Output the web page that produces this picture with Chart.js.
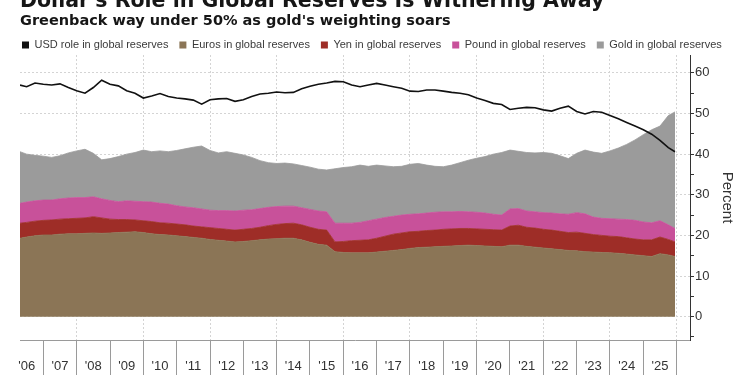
<!DOCTYPE html>
<html><head><meta charset="utf-8">
<script src="https://cdn.jsdelivr.net/npm/chart.js@4.4.1/dist/chart.umd.min.js"></script>
<style>
html,body{margin:0;padding:0;background:#fff;overflow:hidden}
#wrap{position:relative;width:750px;height:375px;overflow:hidden;background:#fff}
canvas{position:absolute;left:0;top:0}
.t{position:absolute;left:20px;white-space:nowrap;font-family:'DejaVu Sans',sans-serif;font-weight:bold;color:#161616;line-height:1}
#title{top:-10.3px;font-size:20.5px}
#sub{top:12.7px;font-size:14.5px}
</style></head><body>
<div id="wrap">
<canvas id="c" width="750" height="375"></canvas>
<div class="t" id="title">Dollar's Role in Global Reserves Is Withering Away</div>
<div class="t" id="sub">Greenback way under 50% as gold's weighting soars</div>
</div>
<script>
// ---- data (decimal years) ----
const dates = [2006.30,2006.50,2006.75,2007.00,2007.25,2007.50,2007.75,2008.00,2008.25,2008.50,
2008.75,2009.00,2009.25,2009.50,2009.75,2010.00,2010.25,2010.50,2010.75,2011.00,
2011.25,2011.50,2011.75,2012.00,2012.25,2012.50,2012.75,2013.00,2013.25,2013.50,
2013.75,2014.00,2014.25,2014.50,2014.75,2015.00,2015.25,2015.50,2015.75,2016.00,
2016.25,2016.50,2016.75,2017.00,2017.25,2017.50,2017.75,2018.00,2018.25,2018.50,
2018.75,2019.00,2019.25,2019.50,2019.75,2020.00,2020.25,2020.50,2020.75,2021.00,
2021.25,2021.50,2021.75,2022.00,2022.25,2022.50,2022.75,2023.00,2023.25,2023.50,
2023.75,2024.00,2024.25,2024.50,2024.75,2025.00,2025.25,2025.50,2025.75,2025.95];

const usd = [57.0,56.6,57.5,57.2,57.0,57.3,56.4,55.6,55.0,56.4,
58.2,57.2,56.8,55.6,55.0,53.8,54.3,54.9,54.2,53.8,
53.6,53.3,52.3,53.4,53.6,53.7,53.0,53.4,54.2,54.8,
55.0,55.3,55.1,55.2,56.1,56.7,57.2,57.5,57.9,57.8,
57.0,56.6,57.0,57.4,57.0,56.6,56.2,55.5,55.4,55.8,
55.8,55.5,55.2,55.0,54.6,53.8,53.2,52.5,52.2,51.0,
51.3,51.5,51.4,50.9,50.6,51.3,51.8,50.5,49.9,50.5,
50.3,49.5,48.7,47.8,46.9,46.0,44.9,43.4,41.6,40.6];

const euro = [19.3,19.6,19.9,20.1,20.1,20.3,20.4,20.4,20.5,20.6,
20.5,20.6,20.7,20.8,20.9,20.7,20.4,20.2,20.1,19.9,
19.7,19.5,19.3,19.0,18.8,18.6,18.4,18.5,18.7,18.9,
19.1,19.2,19.3,19.3,18.9,18.3,17.8,17.6,16.0,15.8,
15.7,15.7,15.7,15.9,16.1,16.3,16.5,16.8,17.0,17.1,
17.2,17.3,17.4,17.5,17.6,17.5,17.4,17.3,17.2,17.6,
17.6,17.3,17.1,16.9,16.7,16.5,16.3,16.2,16.0,15.9,
15.8,15.7,15.6,15.4,15.2,15.0,14.8,15.5,15.2,14.8];

const yen = [3.7,3.6,3.6,3.6,3.7,3.7,3.7,3.8,3.8,4.0,
3.8,3.4,3.2,3.1,2.9,2.9,3.0,2.9,2.9,2.9,
2.9,2.8,2.8,2.9,2.9,2.9,2.9,3.0,3.0,3.1,
3.3,3.5,3.6,3.7,3.7,3.7,3.7,3.7,2.4,2.7,
3.0,3.1,3.2,3.4,3.7,4.0,4.1,4.1,4.0,4.1,
4.1,4.2,4.2,4.2,4.1,4.1,4.1,4.1,4.1,4.7,
4.9,4.7,4.7,4.6,4.6,4.5,4.4,4.6,4.5,4.3,
4.2,4.1,4.1,4.0,3.9,3.9,4.1,4.1,3.8,3.6];

const pound = [4.9,5.0,5.0,5.0,4.9,5.0,5.1,5.1,5.0,4.9,
4.7,4.6,4.4,4.6,4.6,4.7,4.8,4.8,4.7,4.5,
4.4,4.5,4.4,4.3,4.4,4.6,4.7,4.7,4.6,4.6,
4.5,4.4,4.3,4.2,4.2,4.4,4.5,4.5,4.6,4.5,
4.3,4.4,4.7,4.7,4.6,4.4,4.4,4.3,4.3,4.3,
4.4,4.3,4.2,4.2,4.1,4.1,4.0,3.8,3.7,4.2,
4.1,4.0,4.0,4.1,4.2,4.3,4.5,4.8,4.8,4.3,
4.2,4.3,4.3,4.5,4.6,4.4,4.2,4.0,3.6,3.3];

const gold = [12.7,11.8,11.2,10.8,10.5,10.6,11.1,11.5,11.9,10.7,
9.6,10.3,11.1,11.5,12.0,12.7,12.4,12.9,12.9,13.6,
14.3,14.9,15.5,14.7,14.2,14.5,14.2,13.6,12.9,11.8,
11.0,10.6,10.6,10.4,10.4,10.4,10.3,10.3,13.4,13.7,
13.9,14.1,13.4,13.3,12.7,12.2,12.0,12.3,12.4,11.8,
11.3,11.1,11.5,12.0,12.7,13.3,13.9,14.8,15.4,14.5,
14.1,14.4,14.5,14.8,14.7,14.3,13.7,14.6,15.7,16.0,
16.0,16.7,17.5,18.5,19.8,21.5,22.9,23.3,26.9,28.7];

// ---- tick labels ----
const yearStarts = [2007,2008,2009,2010,2011,2012,2013,2014,2015,2016,2017,2018,2019,2020,2021,2022,2023,2024,2025,2026];
const xLabels = ["'06","'07","'08","'09","'10","'11","'12","'13","'14","'15","'16","'17","'18","'19","'20","'21","'22","'23","'24","'25"];
const yTicks = [-5,0,5,10,15,20,25,30,35,40,45,50,55,60];

const seriesLabels = ['USD role in global reserves','Euros in global reserves','Yen in global reserves','Pound in global reserves','Gold in global reserves'];
const colors = ['#111111','#8b7556','#9e2d27','#c8519a','#9b9b9b'];

const SANS = "'Liberation Sans', Arial, sans-serif";
const pts = arr => arr.map((v, i) => ({x: dates[i], y: v}));
const clear = 'rgba(0,0,0,0)';

// label positions are centred within each year
const xTickVals = [];
yearStarts.forEach((y, i) => { xTickVals.push(y - 0.5); xTickVals.push(y); });
const labelAt = {};
yearStarts.forEach((y, i) => { labelAt[(y - 0.5).toFixed(1)] = xLabels[i]; });

const area = (i, fill) => ({
  label: seriesLabels[i], data: pts([null, euro, yen, pound, gold][i]), stack: 'res', yAxisID: 'y',
  backgroundColor: colors[i], borderColor: colors[i], borderWidth: 0.8, fill: fill,
  pointRadius: 0, tension: 0
});

new Chart(document.getElementById('c'), {
  type: 'line',
  data: { datasets: [
    { label: seriesLabels[0], data: pts(usd), stack: 'usd', yAxisID: 'y', borderColor: colors[0], backgroundColor: colors[0],
      borderWidth: 1.6, fill: false, pointRadius: 0, tension: 0 },
    area(1, 'origin'), area(2, '-1'), area(3, '-1'), area(4, '-1')
  ]},
  options: {
    responsive: false, animation: false, events: [],
    layout: { padding: { top: 28.5, left: 11, right: 0, bottom: 0 } },
    plugins: {
      title: { display: false },
      tooltip: { enabled: false },
      legend: {
        position: 'top', align: 'start', maxHeight: 26.5,
        labels: {
          boxWidth: 7, boxHeight: 7, padding: 11, color: '#3a3a3a',
          font: { family: SANS, size: 11 },
          generateLabels: chart => Chart.defaults.plugins.legend.labels.generateLabels(chart).map(l => Object.assign(l, { lineWidth: 0 }))
        }
      }
    },
    scales: {
      x: {
        type: 'linear', min: 2006.3, max: 2026.4,
        afterBuildTicks: s => { s.ticks = xTickVals.map(v => ({ value: v })); },
        afterFit: s => { s.height = 35; },
        ticks: { autoSkip: false, maxRotation: 0, minRotation: 0, padding: -16, color: '#333',
          font: { family: SANS, size: 13 },
          callback: v => labelAt[Number(v).toFixed(1)] || '' },
        grid: {
          color: c => (c.tick && Number.isInteger(c.tick.value) && c.tick.value % 2 === 0) ? '#d4d4d4' : clear,
          tickColor: c => (c.tick && Number.isInteger(c.tick.value)) ? '#9a9a9a' : clear,
          tickLength: 35, lineWidth: 1, tickWidth: 1
        },
        border: { display: true, color: '#9a9a9a', dash: [2, 2], width: 1 }
      },
      y: {
        position: 'right', stacked: true, min: -5.75, max: 64.4,
        afterBuildTicks: s => { s.ticks = yTicks.map(v => ({ value: v })); },
        afterFit: s => { s.width = 60; },
        ticks: { padding: 1, color: '#333', font: { family: SANS, size: 13 },
          callback: v => (v % 10 === 0 ? String(v) : '') },
        grid: {
          color: c => (c.tick && c.tick.value % 10 === 0 && c.tick.value >= 0) ? '#d4d4d4' : clear,
          tickColor: '#333', tickLength: 4, tickWidth: 1, lineWidth: 1
        },
        border: { display: true, color: '#333', dash: [2, 2], width: 1 },
        title: { display: true, text: 'Percent', color: '#333', font: { family: SANS, size: 15 }, padding: { top: 14, bottom: 0 } }
      },
      yL: {
        position: 'left', display: true, min: 0, max: 1,
        ticks: { display: false }, grid: { display: false }, border: { display: false },
        afterFit: s => { s.width = 9; }
      }
    }
  }
});
</script>
</body></html>
